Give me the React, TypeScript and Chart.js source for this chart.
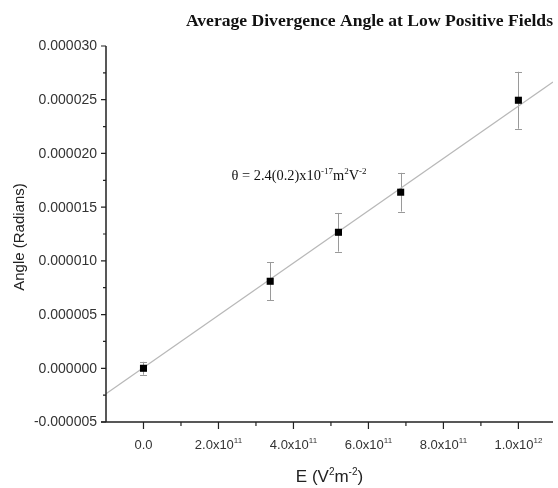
import React, { useEffect, useRef } from 'react';
import { Chart, registerables } from 'chart.js';

Chart.register(...registerables);

// ---- text ----
const chartTitle = 'Average Divergence Angle at Low Positive Fields';
const yAxisTitle = 'Angle (Radians)';
const xAxisTitleParts: [string, boolean][] = [['E (V', false], ['2', true], ['m', false], ['-2', true], [')', false]];
const fitLabelParts: [string, boolean][] = [['\u03B8 = 2.4(0.2)x10', false], ['-17', true], ['m', false], ['2', true], ['V', false], ['-2', true]];
const fitLabelAt = { x: 2.35e11, y: 1.75e-5 };

// ---- data ----
const xValues = [0, 3.38e11, 5.2e11, 6.86e11, 1.0e12];
const yValues = [0, 8.1e-6, 1.266e-5, 1.639e-5, 2.495e-5];
const yErrors = [0.6e-6, 1.77e-6, 1.8e-6, 1.8e-6, 2.65e-6];

// linear fit line endpoints
const fitX = [-1e11, 1.0923e12];
const fitY = [-2.37e-6, 2.665e-5];

// ---- axes ----
const xMin = -1e11;
const xMax = 1.0923e12;
const yMin = -5e-6;
const yMax = 3e-5;
const xMajorTicks = [0, 2e11, 4e11, 6e11, 8e11, 1e12];
const xTickLabels: [string, string][] = [
  ['0.0', ''],
  ['2.0x10', '11'],
  ['4.0x10', '11'],
  ['6.0x10', '11'],
  ['8.0x10', '11'],
  ['1.0x10', '12'],
];
const xMinorTicks = [1e11, 3e11, 5e11, 7e11, 9e11];
const yMajorTicks = [-5e-6, 0, 5e-6, 1e-5, 1.5e-5, 2e-5, 2.5e-5, 3e-5];
const yTickLabels = ['-0.000005', '0.000000', '0.000005', '0.000010', '0.000015', '0.000020', '0.000025', '0.000030'];
const yMinorTicks = [-2.5e-6, 2.5e-6, 7.5e-6, 1.25e-5, 1.75e-5, 2.25e-5, 2.75e-5];

const SANS = '"Liberation Sans", Arial, sans-serif';
const SERIF = '"Liberation Serif", "Times New Roman", serif';

function drawRich(
  ctx: CanvasRenderingContext2D,
  parts: [string, boolean][],
  x: number,
  y: number,
  align: 'left' | 'center',
  font: string,
  supFont: string,
  rise: number
) {
  let total = 0;
  const widths = parts.map(([t, sup]) => {
    ctx.font = sup ? supFont : font;
    const w = ctx.measureText(t).width;
    total += w;
    return w;
  });
  let cx = align === 'center' ? x - total / 2 : x;
  ctx.textAlign = 'left';
  ctx.textBaseline = 'alphabetic';
  parts.forEach(([t, sup], i) => {
    ctx.font = sup ? supFont : font;
    ctx.fillText(t, cx, sup ? y - rise : y);
    cx += widths[i];
  });
}

const customPlugin = {
  id: 'customAxes',
  beforeDatasetsDraw(chart: any) {
    const ctx: CanvasRenderingContext2D = chart.ctx;
    const xs = chart.scales.x;
    const ys = chart.scales.y;
    ctx.save();
    ctx.strokeStyle = '#9a9a9a';
    ctx.lineWidth = 1;
    xValues.forEach((xv, i) => {
      const px = Math.round(xs.getPixelForValue(xv)) + 0.5;
      const top = ys.getPixelForValue(yValues[i] + yErrors[i]);
      const bot = ys.getPixelForValue(yValues[i] - yErrors[i]);
      ctx.beginPath();
      ctx.moveTo(px, top);
      ctx.lineTo(px, bot);
      ctx.moveTo(px - 3.5, Math.round(top) + 0.5);
      ctx.lineTo(px + 3.5, Math.round(top) + 0.5);
      ctx.moveTo(px - 3.5, Math.round(bot) + 0.5);
      ctx.lineTo(px + 3.5, Math.round(bot) + 0.5);
      ctx.stroke();
    });
    ctx.restore();
  },
  afterDraw(chart: any) {
    const ctx: CanvasRenderingContext2D = chart.ctx;
    const xs = chart.scales.x;
    const ys = chart.scales.y;
    const area = chart.chartArea;
    ctx.save();
    // axis lines
    ctx.strokeStyle = '#222';
    ctx.lineWidth = 1.5;
    ctx.beginPath();
    ctx.moveTo(area.left, area.top);
    ctx.lineTo(area.left, area.bottom);
    ctx.moveTo(area.left - 5, area.bottom);
    ctx.lineTo(area.right, area.bottom);
    ctx.stroke();

    // y ticks
    ctx.lineWidth = 1.2;
    ctx.beginPath();
    yMajorTicks.forEach((v) => {
      const py = ys.getPixelForValue(v);
      ctx.moveTo(area.left - 5, py);
      ctx.lineTo(area.left, py);
    });
    yMinorTicks.forEach((v) => {
      const py = ys.getPixelForValue(v);
      ctx.moveTo(area.left - 3, py);
      ctx.lineTo(area.left, py);
    });
    // x ticks
    xMajorTicks.forEach((v) => {
      const px = xs.getPixelForValue(v);
      ctx.moveTo(px, area.bottom);
      ctx.lineTo(px, area.bottom + 7);
    });
    xMinorTicks.forEach((v) => {
      const px = xs.getPixelForValue(v);
      ctx.moveTo(px, area.bottom);
      ctx.lineTo(px, area.bottom + 4);
    });
    ctx.stroke();

    // y tick labels
    ctx.fillStyle = '#333';
    ctx.font = `14px ${SANS}`;
    ctx.textAlign = 'right';
    ctx.textBaseline = 'middle';
    yMajorTicks.forEach((v, i) => {
      ctx.fillText(yTickLabels[i], area.left - 9, ys.getPixelForValue(v) + 0.5);
    });

    // x tick labels
    xMajorTicks.forEach((v, i) => {
      const [main, sup] = xTickLabels[i];
      const parts: [string, boolean][] = sup ? [[main, false], [sup, true]] : [[main, false]];
      drawRich(ctx, parts, xs.getPixelForValue(v), area.bottom + 27, 'center', `13px ${SANS}`, `8px ${SANS}`, 6);
    });

    // axis titles
    ctx.fillStyle = '#222';
    drawRich(ctx, xAxisTitleParts, (area.left + area.right) / 2, 482, 'center', `17px ${SANS}`, `10px ${SANS}`, 7);
    ctx.save();
    ctx.translate(20, (area.top + area.bottom) / 2 + 3);
    ctx.rotate(-Math.PI / 2);
    ctx.font = `15px ${SANS}`;
    ctx.textAlign = 'center';
    ctx.textBaseline = 'middle';
    ctx.fillText(yAxisTitle, 0, 0);
    ctx.restore();

    // chart title
    ctx.fillStyle = '#111';
    ctx.font = `bold 17.6px ${SERIF}`;
    ctx.textAlign = 'right';
    ctx.textBaseline = 'alphabetic';
    ctx.fillText(chartTitle, 553, 26);

    // fit annotation
    drawRich(
      ctx,
      fitLabelParts,
      xs.getPixelForValue(fitLabelAt.x),
      ys.getPixelForValue(fitLabelAt.y),
      'left',
      `14.4px ${SERIF}`,
      `9px ${SERIF}`,
      6
    );
    ctx.restore();
  },
};

export default function App() {
  const canvasRef = useRef<HTMLCanvasElement | null>(null);

  useEffect(() => {
    const canvas = canvasRef.current;
    if (!canvas) return;
    const chart = new Chart(canvas, {
      type: 'scatter',
      data: {
        datasets: [
          {
            type: 'line',
            data: fitX.map((x, i) => ({ x, y: fitY[i] })),
            borderColor: '#b8b8b8',
            borderWidth: 1.3,
            pointRadius: 0,
            fill: false,
            order: 2,
          } as any,
          {
            type: 'scatter',
            data: xValues.map((x, i) => ({ x, y: yValues[i] })),
            pointStyle: 'rect',
            pointRadius: 5,
            pointHoverRadius: 5,
            backgroundColor: '#000',
            borderColor: '#000',
            borderWidth: 0,
            order: 1,
          } as any,
        ],
      },
      options: {
        responsive: false,
        animation: false,
        devicePixelRatio: 1,
        events: [],
        layout: { padding: { left: 106, top: 46, right: 0, bottom: 66 } },
        plugins: {
          legend: { display: false },
          tooltip: { enabled: false },
          title: { display: false },
        },
        scales: {
          x: { type: 'linear', min: xMin, max: xMax, display: false },
          y: { type: 'linear', min: yMin, max: yMax, display: false },
        },
      },
      plugins: [customPlugin],
    });
    return () => chart.destroy();
  }, []);

  return (
    <div style={{ position: 'absolute', left: 0, top: 0, width: 558, height: 488, background: '#fff' }}>
      <canvas ref={canvasRef} width={558} height={488} style={{ width: 558, height: 488, display: 'block' }} />
    </div>
  );
}
